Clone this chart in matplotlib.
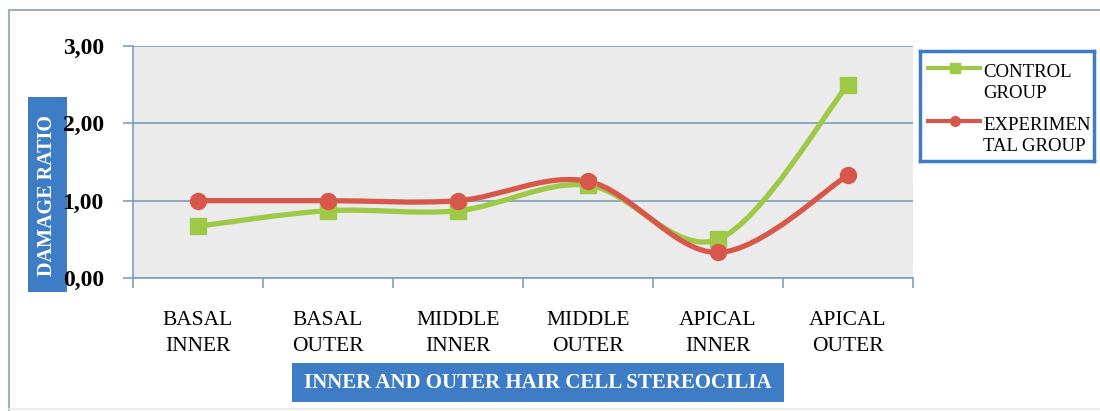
import numpy as np
import matplotlib.pyplot as plt
from matplotlib.path import Path
from matplotlib.patches import PathPatch, Rectangle
from matplotlib.lines import Line2D

## data
categories = ['BASAL\nINNER', 'BASAL\nOUTER', 'MIDDLE\nINNER', 'MIDDLE\nOUTER', 'APICAL\nINNER', 'APICAL\nOUTER']
control = [0.67, 0.87, 0.87, 1.20, 0.50, 2.50]
experimental = [1.00, 1.00, 1.00, 1.25, 0.33, 1.33]
yticks = [0.0, 1.0, 2.0, 3.0]
ytick_labels = ['0,00', '1,00', '2,00', '3,00']
series_names = ['CONTROL\nGROUP', 'EXPERIMEN\nTAL GROUP']

green = '#9DC946'
red = '#D7574B'
grid_c = '#7F9DBD'
blue_box = '#3E7DC6'
serif = 'Liberation Serif'

W, H = 1100, 411
fig = plt.figure(figsize=(W / 100, H / 100), dpi=100)

# outer chart frame (top and left edges, right edge falls outside the picture)
fig.add_artist(Line2D([9 / W, 1.0], [1 - 10 / H, 1 - 10 / H], color='#A3AEB7', lw=1.5))
fig.add_artist(Line2D([9 / W, 9 / W], [1 - 10 / H, 0.0], color='#A3AEB7', lw=1.5))
fig.add_artist(Line2D([9 / W, 1.0], [1 - 409 / H, 1 - 409 / H], color='#EDE6E4', lw=1.2))

ax = fig.add_axes([133 / W, 1 - 278 / H, (913 - 133) / W, (278 - 46) / H])

def smooth_path(xs, ys):
    # Excel-like smoothed line: cubic bezier with catmull-rom control points
    pts = np.column_stack([xs, ys]).astype(float)
    n = len(pts)
    verts = [pts[0]]
    codes = [Path.MOVETO]
    for i in range(n - 1):
        p0 = pts[i - 1] if i > 0 else pts[i]
        p1 = pts[i]
        p2 = pts[i + 1]
        p3 = pts[i + 2] if i + 2 < n else pts[i + 1]
        c1 = p1 + (p2 - p0) / 6.0
        c2 = p2 - (p3 - p1) / 6.0
        verts += [c1, c2, p2]
        codes += [Path.CURVE4] * 3
    return Path(verts, codes)

x = np.arange(len(categories))
for vals, col, mk in [(control, green, 's'), (experimental, red, 'o')]:
    ax.add_patch(PathPatch(smooth_path(x, vals), facecolor='none', edgecolor=col,
                           lw=3.8, capstyle='round', joinstyle='round', zorder=3))
    ax.plot(x, vals, linestyle='none', marker=mk, ms=11.5, color=col, zorder=4)

ax.set_facecolor('#EBEBEB')
ax.set_xlim(-0.5, len(categories) - 0.5)
ax.set_ylim(0, 3)
ax.set_yticks(yticks)
ax.set_yticklabels(ytick_labels, fontsize=17, fontweight='bold', family=serif)
ax.yaxis.grid(True, color=grid_c, lw=1.2)
ax.set_axisbelow(True)
ax.set_xticks(np.arange(len(categories) + 1) - 0.5)
ax.set_xticklabels([])
ax.set_xticks(x, minor=True)
ax.set_xticklabels(categories, minor=True, fontsize=15.5, family=serif, linespacing=1.5)
ax.tick_params(axis='x', which='minor', length=0, pad=24)
ax.tick_params(axis='x', which='major', length=7, color=grid_c, width=1.2)
ax.tick_params(axis='y', length=7, color=grid_c, width=1.2, pad=14)
for s in ['top', 'right']:
    ax.spines[s].set_visible(False)
for s in ['left', 'bottom']:
    ax.spines[s].set_color(grid_c)
    ax.spines[s].set_linewidth(1.2)

# y label box
fig.patches.append(Rectangle((28 / W, 1 - 292 / H), 39 / W, 195 / H, transform=fig.transFigure,
                             facecolor=blue_box, edgecolor='none', zorder=-1))
fig.text(47.5 / W, 1 - 195.5 / H, 'DAMAGE RATIO', rotation=90, ha='center', va='center',
         color='white', fontsize=14.5, fontweight='bold', family=serif)

# x label box
fig.patches.append(Rectangle((292 / W, 1 - 402 / H), 492 / W, 39 / H, transform=fig.transFigure,
                             facecolor=blue_box, edgecolor='none', zorder=-1))
fig.text(538 / W, 1 - 382.5 / H, 'INNER AND OUTER HAIR CELL STEREOCILIA', ha='center', va='center',
         color='white', fontsize=15, fontweight='bold', family=serif)

# legend
lax = fig.add_axes([920 / W, 1 - 161 / H, 174 / W, 110 / H])
lax.set_xlim(0, 174)
lax.set_ylim(110, 0)
lax.set_xticks([])
lax.set_yticks([])
for s in lax.spines.values():
    s.set_color(blue_box)
    s.set_linewidth(2.5)
for yy, col, mk, lab in [(17, green, 's', series_names[0]), (70, red, 'o', series_names[1])]:
    lax.plot([8, 60], [yy, yy], color=col, lw=3)
    lax.plot([35], [yy], marker=mk, color=col, ms=7)
    lax.text(63, yy + 15, lab, ha='left', va='center', fontsize=13.5, family=serif, linespacing=1.3)

plt.savefig('out.png', dpi=100)
